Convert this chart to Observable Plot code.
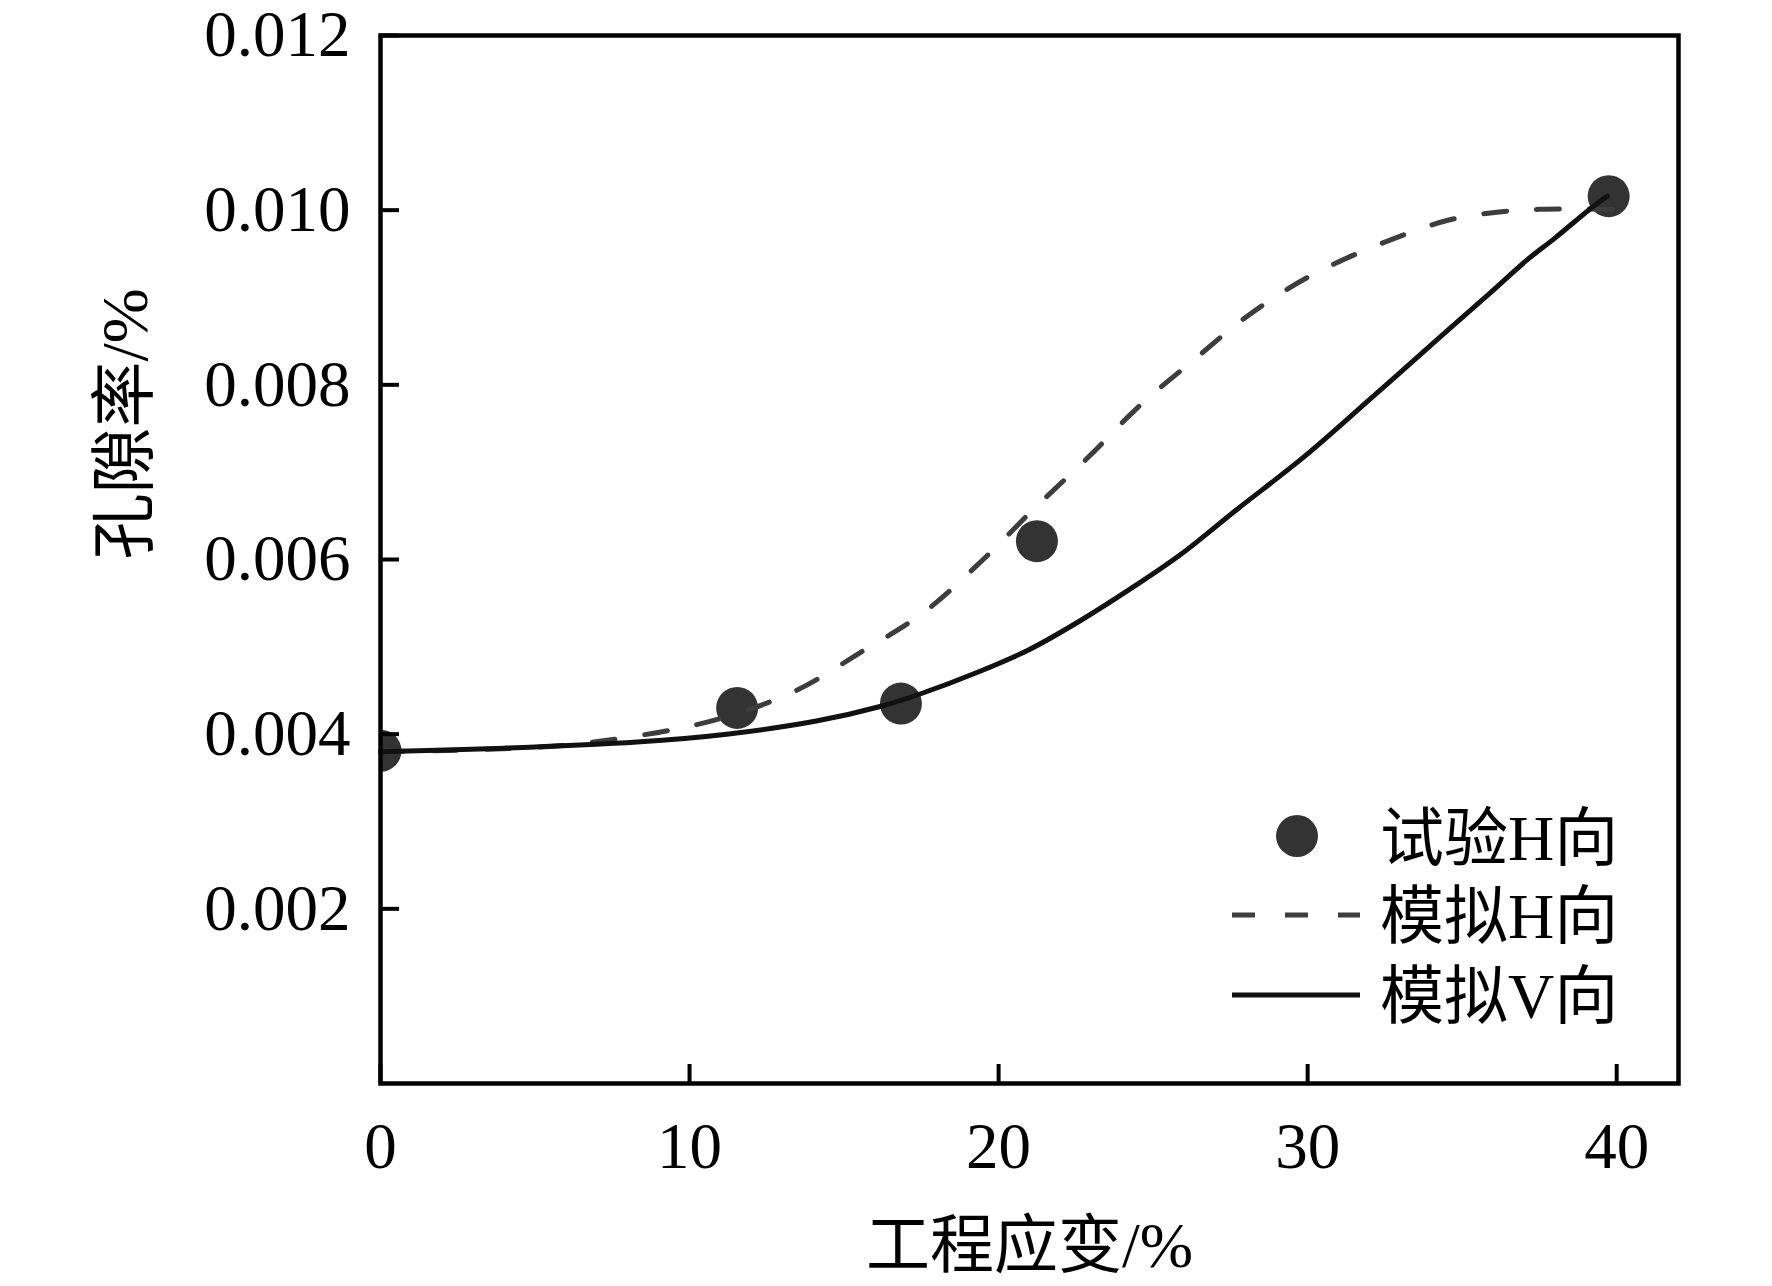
<!DOCTYPE html>
<html>
<head>
<meta charset="utf-8">
<script src="https://cdn.jsdelivr.net/npm/d3@7"></script>
<script src="https://cdn.jsdelivr.net/npm/@observablehq/plot@0.6"></script>
<style>
  body { margin: 0; background: #fff; }
  #wrap { position: relative; width: 1772px; height: 1286px; overflow: hidden; }
  #legend { position: absolute; left: 0; top: 0; pointer-events: none; }
</style>
</head>
<body>
<div id="wrap"></div>
<script>
const FONT = '"Liberation Serif", "Times New Roman", "Noto Sans CJK SC", serif';

// 试验H向 (experimental points)
const testX = [0, 11.54, 16.84, 21.24, 39.74];
const testY = [0.00381, 0.0043, 0.00435, 0.00621, 0.01016];

// 模拟H向 (simulated, dashed)
const simHX = [0, 5.5, 8.3, 10.9, 13.4, 15.55, 17.6, 19.5, 21.2, 22.9, 24.5, 26.4, 28.1, 30.1, 32.4, 34.6, 36.2, 37.5, 40.2];
const simHY = [0.0038, 0.00386, 0.00398, 0.00417, 0.00449, 0.00494, 0.0054, 0.006, 0.0066, 0.00717, 0.00774, 0.00831, 0.0088, 0.00925, 0.00962, 0.00989, 0.00998, 0.01001, 0.01001];

// 模拟V向 (simulated, solid)
const simVX = [0, 4.0, 8.3, 11.2, 14.1, 16.2, 17.46, 19.4, 21.0, 22.6, 24.25, 25.9, 27.7, 29.9, 32.0, 34.1, 35.9, 37.1, 38.0, 39.3, 39.7];
const simVY = [0.0038, 0.00384, 0.00391, 0.004, 0.00415, 0.00432, 0.00446, 0.00472, 0.00497, 0.00529, 0.00566, 0.00606, 0.00657, 0.00718, 0.00783, 0.00849, 0.00905, 0.00943, 0.00968, 0.01006, 0.01016];

const xTicks = [0, 10, 20, 30, 40];
const yTicks = [0.002, 0.004, 0.006, 0.008, 0.010, 0.012];

const xLabel = "工程应变/%";
const yLabel = "孔隙率/%";
const legendLabels = ["试验H向", "模拟H向", "模拟V向"];

const toRows = (xs, ys) => xs.map((x, i) => ({x, y: ys[i]}));
const testData = toRows(testX, testY);
const simH = toRows(simHX, simHY);
const simV = toRows(simVX, simVY);

const plot = Plot.plot({
  width: 1772,
  height: 1286,
  marginLeft: 380,
  marginRight: 94,
  marginTop: 35,
  marginBottom: 203,
  style: {fontFamily: FONT, background: "#fff", color: "#000", overflow: "visible"},
  x: {domain: [0, 42]},
  y: {domain: [0, 0.012]},
  marks: [
    Plot.dot(testData, {x: "x", y: "y", r: 21, fill: "#333", stroke: "none", clip: "frame"}),
    Plot.line(simH, {x: "x", y: "y", stroke: "#3d3d3d", strokeWidth: 5, strokeDasharray: "23 30", curve: "catmull-rom"}),
    Plot.line(simV, {x: "x", y: "y", stroke: "#111", strokeWidth: 5, curve: "catmull-rom"}),
    Plot.axisX({ticks: xTicks, tickSize: -19, text: null, strokeWidth: 4, label: null}),
    Plot.axisX({ticks: xTicks, tickSize: 0, tickPadding: 38, fontSize: 65, label: null, fill: "#000"}),
    Plot.axisY({ticks: yTicks, tickSize: -19, text: null, strokeWidth: 4, label: null}),
    Plot.axisY({ticks: yTicks, tickSize: 0, tickPadding: 30, fontSize: 65, tickFormat: d3.format(".3f"), label: null, fill: "#000"}),
    Plot.text([xLabel], {text: d => d, frameAnchor: "bottom", dy: 163, fontSize: 64, lineAnchor: "middle", fill: "#000"}),
    Plot.text([yLabel], {text: d => d, frameAnchor: "left", dx: -255, rotate: -90, fontSize: 66, lineAnchor: "middle", fill: "#000"}),
    Plot.frame({stroke: "#000", strokeWidth: 4.5})
  ]
});

const wrap = document.getElementById("wrap");
wrap.appendChild(plot);

// Legend overlay
const lg = d3.select(wrap).append("svg")
  .attr("id", "legend")
  .attr("width", 1772).attr("height", 1286)
  .style("font-family", FONT);

const rowsY = [836, 915, 995];
const baseY = [860, 938, 1018];
lg.append("circle").attr("cx", 1297).attr("cy", rowsY[0]).attr("r", 21).attr("fill", "#333");
lg.append("line").attr("x1", 1232).attr("x2", 1360).attr("y1", rowsY[1]).attr("y2", rowsY[1])
  .attr("stroke", "#3d3d3d").attr("stroke-width", 5).attr("stroke-dasharray", "23 30");
lg.append("line").attr("x1", 1232).attr("x2", 1360).attr("y1", rowsY[2]).attr("y2", rowsY[2])
  .attr("stroke", "#111").attr("stroke-width", 5);
legendLabels.forEach((t, i) => {
  lg.append("text").attr("x", 1380).attr("y", baseY[i]).attr("font-size", 64).attr("fill", "#000").text(t);
});
</script>
</body>
</html>
